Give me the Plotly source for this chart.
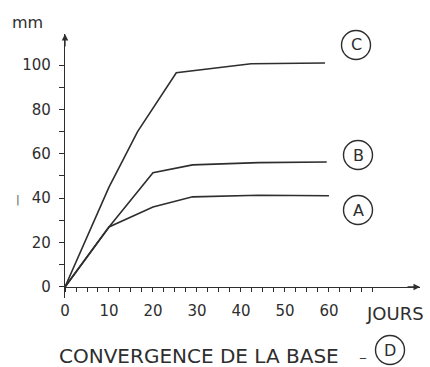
import plotly.graph_objects as go

# ---- data ----
days_A = [0, 10, 20, 29, 44, 60]
mm_A = [0, 27, 36, 40.6, 41.3, 41.1]

days_B = [0, 10, 20, 29, 44, 59.5]
mm_B = [0, 27, 51.5, 55, 56, 56.3]

days_C = [0, 10, 16.5, 20, 25.3, 42.3, 59.1]
mm_C = [0, 45, 70, 80.5, 96.5, 100.6, 100.9]

curve_labels = ["C", "B", "A", "D"]
x_tick_vals = [0, 10, 20, 30, 40, 50, 60]
x_tick_text = ["0", "10", "20", "30", "40", "50", "60"]
x_minor_vals = [v * 2.5 for v in range(0, 29)]
y_tick_vals = [0, 20, 40, 60, 80, 100]
y_tick_text = ["0", "20", "40", "60", "80", "100"]
y_minor_vals = [10, 30, 50, 70, 90]

INK = "#2e2e2e"
FONT = "DejaVu Sans"

# plot area in pixels: x 65..420, y 34..298
L, R, T, B = 65, 420, 34, 298


def px(xp):
    return (xp - L) / (R - L)


def py(yp):
    return (B - yp) / (B - T)


fig = go.Figure()
for xs, ys in [(days_A, mm_A), (days_B, mm_B), (days_C, mm_C)]:
    fig.add_trace(go.Scatter(x=xs, y=ys, mode="lines",
                             line=dict(color=INK, width=1.6),
                             hoverinfo="skip", showlegend=False))

fig.update_layout(
    width=430, height=367,
    margin=dict(l=L, r=430 - R, t=T, b=367 - B, autoexpand=False),
    paper_bgcolor="white", plot_bgcolor="white",
    font=dict(family=FONT, color=INK, size=15),
    xaxis=dict(range=[0, 80.7], anchor="free", position=5 / 119,
               automargin=False,
               showgrid=False, zeroline=False,
               showline=True, linecolor=INK, linewidth=1.4,
               tickmode="array", tickvals=x_tick_vals, ticktext=x_tick_text,
               ticks="outside", ticklen=4, tickwidth=1.2, tickcolor=INK,
               ticklabelstandoff=6,
               tickfont=dict(family=FONT, size=15, color=INK),
               minor=dict(tickmode="array", tickvals=x_minor_vals,
                          ticks="outside", ticklen=4, tickwidth=1.2,
                          tickcolor=INK, showgrid=False)),
    yaxis=dict(range=[-5, 114], anchor="x", automargin=False,
               showgrid=False, zeroline=False,
               showline=True, linecolor=INK, linewidth=1.4,
               tickmode="array", tickvals=y_tick_vals, ticktext=y_tick_text,
               ticks="outside", ticklen=5, tickwidth=1.2, tickcolor=INK,
               ticklabelstandoff=5,
               tickfont=dict(family=FONT, size=15, color=INK),
               minor=dict(tickmode="array", tickvals=y_minor_vals,
                          ticks="outside", ticklen=5, tickwidth=1.2,
                          tickcolor=INK, showgrid=False)),
)

# circled labels (pixel centres)
label_centres = {"C": (356, 45), "B": (358, 155), "A": (358, 210), "D": (390, 350)}
shapes = []
annotations = []
for name in curve_labels:
    cx, cy = label_centres[name]
    shapes.append(dict(type="circle", xref="paper", yref="paper",
                       xsizemode="pixel", ysizemode="pixel",
                       xanchor=px(cx), yanchor=py(cy),
                       x0=-14.5, x1=14.5, y0=-14.5, y1=14.5,
                       line=dict(color=INK, width=1.4)))
    annotations.append(dict(x=px(cx), y=py(cy), xref="paper", yref="paper",
                            text=name, showarrow=False,
                            xanchor="center", yanchor="middle",
                            font=dict(family=FONT, size=16, color=INK)))


def label(text, xp, yp, size, color=INK):
    return dict(x=px(xp), y=py(yp), xref="paper", yref="paper", text=text,
                showarrow=False, xanchor="center", yanchor="middle",
                font=dict(family=FONT, size=size, color=color))


annotations += [
    # axis arrowheads
    dict(x=0, y=114, xref="x", yref="y", text="", showarrow=True,
         ax=0, ay=14, arrowhead=2, arrowsize=1, arrowwidth=1.3, arrowcolor=INK),
    dict(x=80.7, y=0, xref="x", yref="y", text="", showarrow=True,
         ax=-14, ay=0, arrowhead=2, arrowsize=1, arrowwidth=1.3, arrowcolor=INK),
    label("mm", 27, 22, 16),
    label("JOURS", 395, 313, 18),
    label("CONVERGENCE DE LA BASE", 198.5, 356, 20),
    label("_", 363, 352, 12),
    label("|", 18, 199, 11, "#555555"),
]
fig.update_layout(shapes=shapes, annotations=annotations)

fig.write_html(
    "out.html",
    config={"displayModeBar": False},
    post_script="document.body.style.margin='0px';"
                "document.body.style.overflow='hidden';",
)
